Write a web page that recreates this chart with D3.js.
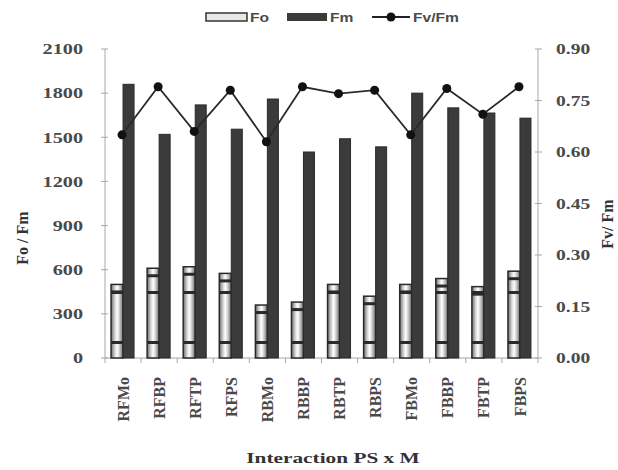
<!DOCTYPE html>
<html><head><meta charset="utf-8">
<script src="https://cdn.jsdelivr.net/npm/d3@7"></script>
<style>body{margin:0;background:#fff}svg{display:block}</style>
</head><body>
<script>
const categories = ["RFMo","RFBP","RFTP","RFPS","RBMo","RBBP","RBTP","RBPS","FBMo","FBBP","FBTP","FBPS"];
const foValues = [500,610,620,575,360,380,500,420,500,540,485,590];
const fmValues = [1860,1520,1720,1555,1760,1400,1490,1435,1800,1700,1665,1630];
const fvfmValues = [0.65,0.79,0.66,0.78,0.63,0.79,0.77,0.78,0.65,0.785,0.71,0.79];
const leftTicks = [0,300,600,900,1200,1500,1800,2100];
const rightTicks = [0,0.15,0.30,0.45,0.60,0.75,0.90];

const W=618,H=470;
const svg=d3.select("body").append("svg").attr("width",W).attr("height",H);
const m={l:105,r:538,t:49,b:358};
const x=d3.scaleBand().domain(categories).range([m.l,m.r]).padding(0);
const yL=d3.scaleLinear().domain([0,2100]).range([m.b,m.t]);
const yR=d3.scaleLinear().domain([0,0.9]).range([m.b,m.t]);
const serif="'Liberation Serif','Times New Roman',serif";
const sans="'Liberation Sans',Arial,sans-serif";
const txtCol="#4a4a4a";

function stretch(sel,f){sel.each(function(){const l=this.getComputedTextLength();d3.select(this).attr("textLength",l*f).attr("lengthAdjust","spacingAndGlyphs");});}

// defs
const defs=svg.append("defs");
const g1=defs.append("linearGradient").attr("id","foGrad").attr("x1",0).attr("x2",1).attr("y1",0).attr("y2",0);
g1.append("stop").attr("offset","0%").attr("stop-color","#6a6a6a");
g1.append("stop").attr("offset","30%").attr("stop-color","#cfcfcf");
g1.append("stop").attr("offset","50%").attr("stop-color","#ffffff");
g1.append("stop").attr("offset","70%").attr("stop-color","#cfcfcf");
g1.append("stop").attr("offset","100%").attr("stop-color","#6a6a6a");
const pat=defs.append("pattern").attr("id","foPat").attr("patternUnits","userSpaceOnUse").attr("width",600).attr("height",50).attr("y",m.b);
pat.append("rect").attr("width",600).attr("height",50).attr("fill","none");
pat.append("rect").attr("y",33).attr("width",600).attr("height",3).attr("fill","#2a2a2a");

// axes lines
svg.append("line").attr("x1",m.l).attr("x2",m.l).attr("y1",m.t).attr("y2",m.b).attr("stroke","#a8a8a8");
svg.append("line").attr("x1",m.r).attr("x2",m.r).attr("y1",m.t).attr("y2",m.b).attr("stroke","#a8a8a8");
svg.append("line").attr("x1",m.l).attr("x2",m.r).attr("y1",m.b).attr("y2",m.b).attr("stroke","#a8a8a8");

// left ticks
const lt=svg.append("g").selectAll("g").data(leftTicks).join("g").attr("transform",d=>`translate(0,${yL(d)})`);
lt.append("line").attr("x1",m.l-4).attr("x2",m.l+3).attr("stroke","#a8a8a8");
lt.append("text").attr("x",83).attr("dy","0.35em").attr("text-anchor","end").attr("font-family",serif).attr("font-weight","bold").attr("font-size",15).attr("fill",txtCol).text(d=>d).call(stretch,1.35);
// right ticks
const rt=svg.append("g").selectAll("g").data(rightTicks).join("g").attr("transform",d=>`translate(0,${yR(d)})`);
rt.append("line").attr("x1",m.r-3).attr("x2",m.r+4).attr("stroke","#a8a8a8");
rt.append("text").attr("x",556).attr("dy","0.35em").attr("text-anchor","start").attr("font-family",serif).attr("font-weight","bold").attr("font-size",15).attr("fill",txtCol).text(d=>d.toFixed(2)).call(stretch,1.3);
// bottom ticks at boundaries
svg.append("g").selectAll("line").data(d3.range(categories.length+1)).join("line")
  .attr("x1",i=>m.l+i*x.bandwidth()).attr("x2",i=>m.l+i*x.bandwidth()).attr("y1",m.b).attr("y2",m.b+5).attr("stroke","#a8a8a8");

// bars
const bw=12;
const gb=svg.append("g");
gb.selectAll("rect.fo").data(categories).join("rect").attr("class","fo")
  .attr("x",(d,i)=>x(d)+x.bandwidth()/2-bw).attr("width",bw)
  .attr("y",(d,i)=>yL(foValues[i])).attr("height",(d,i)=>m.b-yL(foValues[i]))
  .attr("fill","url(#foGrad)").attr("stroke","#2a2a2a").attr("stroke-width",1.5);
gb.selectAll("rect.fop").data(categories).join("rect").attr("class","fop")
  .attr("x",(d,i)=>x(d)+x.bandwidth()/2-bw).attr("width",bw)
  .attr("y",(d,i)=>yL(foValues[i])).attr("height",(d,i)=>m.b-yL(foValues[i]))
  .attr("fill","url(#foPat)");
gb.selectAll("rect.fot").data(categories).join("rect").attr("class","fot")
  .attr("x",(d,i)=>x(d)+x.bandwidth()/2-bw).attr("width",bw)
  .attr("y",(d,i)=>yL(foValues[i])+6).attr("height",3)
  .attr("fill","#2a2a2a");
gb.selectAll("rect.fm").data(categories).join("rect").attr("class","fm")
  .attr("x",(d,i)=>x(d)+x.bandwidth()/2).attr("width",bw-1)
  .attr("y",(d,i)=>yL(fmValues[i])).attr("height",(d,i)=>m.b-yL(fmValues[i]))
  .attr("fill","#3b3b3b").attr("stroke","#2a2a2a").attr("stroke-width",1);

// line
const line=d3.line().x((d,i)=>x(categories[i])+x.bandwidth()/2-1).y(d=>yR(d));
svg.append("path").datum(fvfmValues).attr("d",line).attr("fill","none").attr("stroke","#2a2a2a").attr("stroke-width",1.8);
svg.append("g").selectAll("circle").data(fvfmValues).join("circle")
  .attr("cx",(d,i)=>x(categories[i])+x.bandwidth()/2-1).attr("cy",d=>yR(d)).attr("r",4.5).attr("fill","#111");

// category labels
svg.append("g").selectAll("text").data(categories).join("text")
  .attr("transform",d=>`translate(${x(d)+x.bandwidth()/2},377) rotate(-90)`)
  .attr("dy","0.35em").attr("text-anchor","end").attr("font-family",serif).attr("font-weight","bold").attr("font-size",16).attr("fill",txtCol).text(d=>d);

// axis titles
svg.append("text").attr("transform","translate(22,238) rotate(-90)").attr("dy","0.35em").attr("text-anchor","middle")
  .attr("font-family",serif).attr("font-weight","bold").attr("font-size",16).attr("fill","#333").text("Fo / Fm");
svg.append("text").attr("transform","translate(607,224) rotate(-90)").attr("dy","0.35em").attr("text-anchor","middle")
  .attr("font-family",serif).attr("font-weight","bold").attr("font-size",16).attr("fill","#333").text("Fv/ Fm");
svg.append("text").attr("x",333).attr("y",463).attr("text-anchor","middle")
  .attr("font-family",serif).attr("font-weight","bold").attr("font-size",15).attr("fill","#333").text("Interaction PS x M").call(stretch,1.42);

// legend
const lg=svg.append("g");
lg.append("rect").attr("x",206).attr("y",13).attr("width",41).attr("height",8).attr("fill","#e8e8e8").attr("stroke","#333").attr("stroke-width",1.5);
lg.append("text").attr("x",250).attr("y",22).attr("font-family",sans).attr("font-weight","bold").attr("font-size",13).attr("fill",txtCol).text("Fo").call(stretch,1.2);
lg.append("rect").attr("x",287).attr("y",13).attr("width",40).attr("height",8).attr("fill","#3b3b3b");
lg.append("text").attr("x",330).attr("y",22).attr("font-family",sans).attr("font-weight","bold").attr("font-size",13).attr("fill",txtCol).text("Fm").call(stretch,1.2);
lg.append("line").attr("x1",372).attr("x2",410).attr("y1",17).attr("y2",17).attr("stroke","#222").attr("stroke-width",2);
lg.append("circle").attr("cx",391).attr("cy",17).attr("r",4.5).attr("fill","#111");
lg.append("text").attr("x",413).attr("y",22).attr("font-family",sans).attr("font-weight","bold").attr("font-size",13).attr("fill",txtCol).text("Fv/Fm").call(stretch,1.2);
</script>
</body></html>
